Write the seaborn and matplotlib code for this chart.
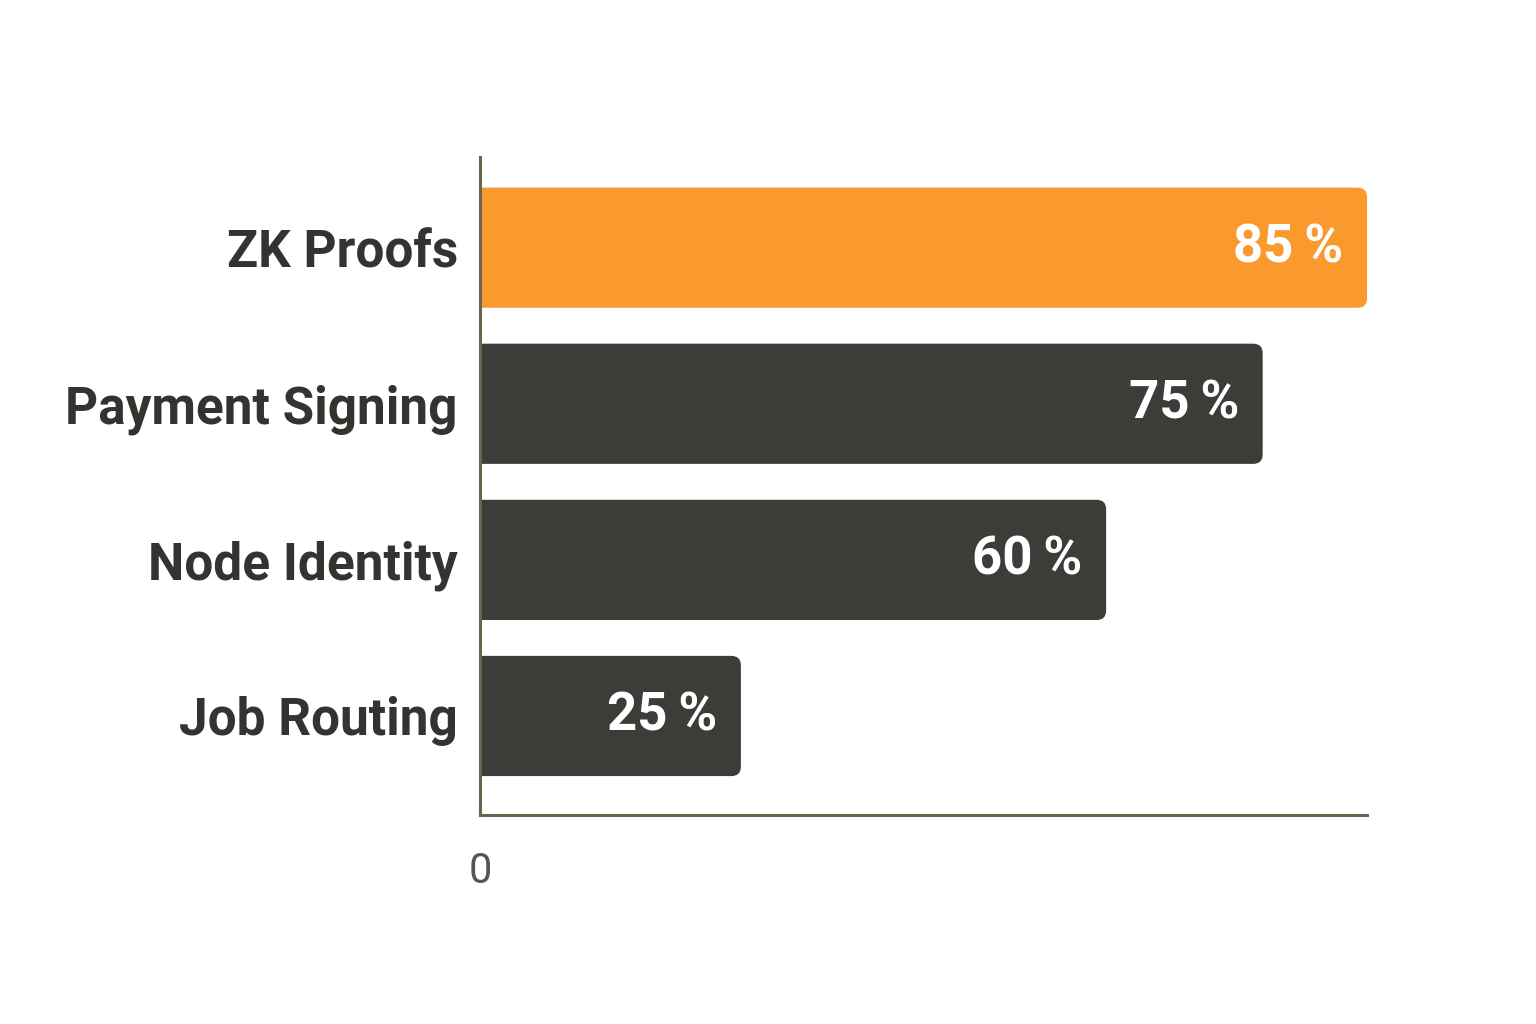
import numpy as np
import pandas as pd
import seaborn as sns
import matplotlib.pyplot as plt
from matplotlib.patches import FancyBboxPatch, Rectangle

categories = ["ZK Proofs", "Payment Signing", "Node Identity", "Job Routing"]
values = [85, 75, 60, 25]
bar_colors = ["#FA9A2E", "#3C3D39", "#3C3D39", "#3C3D39"]

df = pd.DataFrame({"task": categories, "share": values})

sns.set_theme(style="white")
plt.rcParams['font.family'] = ['Roboto', 'DejaVu Sans']

fig = plt.figure(figsize=(15.36, 10.24), dpi=100)
ax = fig.add_axes([0.3125, 0.204, 0.5775, 0.643])

sns.barplot(data=df, x="share", y="task", hue="task", palette=bar_colors,
            legend=False, width=0.77, ax=ax, saturation=1)

ax.set_xlim(0, 85)
ax.set_ylim(3.635, -0.583)

# only keep the part right of x=0, so the left corners stay square
clip_rect = Rectangle((0, -2), 200, 8, transform=ax.transData)

# swap plain bars for bars with rounded right corners
for p, col in zip(list(ax.patches), bar_colors):
    x0, y0 = p.get_x(), p.get_y()
    w, h = p.get_width(), p.get_height()
    p.remove()
    rb = FancyBboxPatch((x0 - 1.5, y0), w + 1.5, h,
                        boxstyle="round,pad=0,rounding_size=0.9",
                        mutation_aspect=0.068, facecolor=col, edgecolor="none",
                        zorder=2)
    ax.add_patch(rb)
    rb.set_clip_path(clip_rect)
    ax.annotate(f"{int(w)}\u2009%", xy=(w, y0 + h / 2), xytext=(-17, 0),
                textcoords="offset points", ha="right", va="center",
                color="white", fontsize=38, fontweight="bold", zorder=3)

ax.set_xticks([0])
ax.set_xticklabels(["0"])
ax.set_xlabel("")
ax.set_ylabel("")
ax.tick_params(axis="x", length=0, pad=26, labelsize=30, labelcolor="#55564E")
ax.tick_params(axis="y", length=0, pad=16, labelsize=37, labelcolor="#333330")
for lab in ax.get_yticklabels():
    lab.set_fontweight("bold")

for s in ["top", "right"]:
    ax.spines[s].set_visible(False)
for s in ["left", "bottom"]:
    ax.spines[s].set_color("#6B6550")
    ax.spines[s].set_linewidth(2.2)
    ax.spines[s].set_zorder(4)

fig.savefig("out.png", dpi=100, facecolor="white")
